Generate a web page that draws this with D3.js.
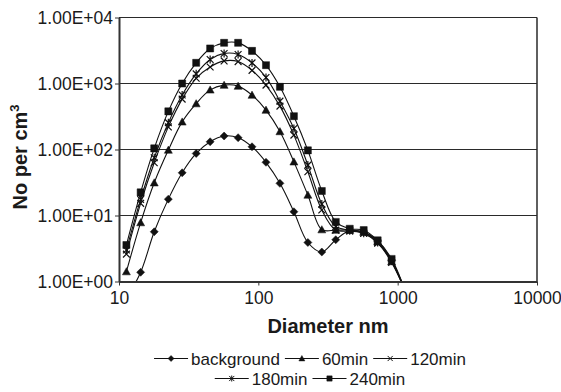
<!DOCTYPE html>
<html>
<head>
<meta charset="utf-8">
<script src="https://cdn.jsdelivr.net/npm/d3@7"></script>
<style>
  body { margin: 0; background: #fff; }
  svg { display: block; font-family: 'Liberation Sans', Arial, sans-serif; }
</style>
</head>
<body>
<div id="chart"></div>
<script>
const WIDTH = 561;
const HEIGHT = 392;
const LEFT = 119;
const RIGHT = 537;
const TOP = 17.5;
const BOTTOM = 281.5;

// diameters (nm), 10 channels per decade
const diameters = [11.3, 14.3, 17.9, 22.6, 28.4, 35.8, 45.1, 56.8, 71.6, 90.1, 113.5,
  142.9, 180.0, 226.7, 285.5, 359.6, 452.9, 570.4, 718.4, 904.8, 1139.5];

const background = [0.55, 1.38, 5.67, 17.7, 44.4, 87, 131, 160, 151, 110, 64,
  30.7, 11.4, 3.9, 2.8, 4.3, 5.9, 5.6, 4.1, 2.1, 0.7];
const min60 = [1.41, 7.8, 31.3, 98, 262, 495, 800, 944, 912, 667, 395,
  187, 65, 20.4, 6.1, 6.0, 6.0, 5.6, 4.0, 2.0, 0.7];
const min120 = [2.6, 15.3, 63, 220, 580, 1200, 1780, 2200, 2150, 1580, 945,
  454, 165, 46, 12.1, 6.0, 5.8, 5.4, 3.8, 1.95, 0.7];
const min180 = [3.0, 17.5, 75, 255, 670, 1400, 2310, 2850, 2750, 2050, 1235,
  540, 208, 58, 14.9, 6.8, 6.0, 5.4, 3.9, 2.05, 0.7];
const min240 = [3.57, 22.4, 104, 378, 1000, 2056, 3400, 4130, 4130, 3120, 1897,
  890, 320, 97, 23.5, 8.0, 6.3, 6.0, 4.2, 2.2, 0.7];

const xTicks = [10, 100, 1000, 10000];
const yTicks = [1, 10, 100, 1000, 10000];

const series = [
  {name: 'background', values: background, marker: 'diamond'},
  {name: '60min', values: min60, marker: 'triangle'},
  {name: '120min', values: min120, marker: 'cross'},
  {name: '180min', values: min180, marker: 'star'},
  {name: '240min', values: min240, marker: 'square'},
];
const legendRows = [['background', '60min', '120min'], ['180min', '240min']];

function markerPath(type, s) {
  switch (type) {
    case 'diamond':
      return `M0,${-s}L${s},0L0,${s}L${-s},0Z`;
    case 'triangle':
      return `M0,${-s}L${s},${s * 0.8}L${-s},${s * 0.8}Z`;
    case 'square':
      return `M${-s * 0.88},${-s * 0.88}H${s * 0.88}V${s * 0.88}H${-s * 0.88}Z`;
    case 'cross':
      return `M${-s * 0.85},${-s * 0.85}L${s * 0.85},${s * 0.85}M${-s * 0.85},${s * 0.85}L${s * 0.85},${-s * 0.85}`;
    case 'star':
      return `M${-s * 0.85},${-s * 0.85}L${s * 0.85},${s * 0.85}M${-s * 0.85},${s * 0.85}L${s * 0.85},${-s * 0.85}M0,${-s}L0,${s}`;
  }
}

function isFilled(type) {
  return type === 'diamond' || type === 'triangle' || type === 'square';
}

function expLabel(d) {
  return d.toExponential(2).toUpperCase().replace(/E([+-])(\d)$/, 'E$10$2');
}

let svg = d3.select('#chart').append('svg')
  .attr('width', WIDTH)
  .attr('height', HEIGHT);

let xScale = d3.scaleLog().domain([10, 10000]).range([LEFT, RIGHT]);
let yScale = d3.scaleLog().domain([1, 10000]).range([BOTTOM, TOP]);

svg.append('defs').append('clipPath')
  .attr('id', 'plotClip')
  .append('rect')
  .attr('x', LEFT)
  .attr('y', TOP)
  .attr('width', RIGHT - LEFT)
  .attr('height', BOTTOM - TOP);

function buildGrid() {
  svg.append('g').attr('class', 'grid')
    .selectAll('line')
    .data(yTicks.slice(1))
    .enter()
    .append('line')
    .attr('x1', LEFT)
    .attr('x2', RIGHT)
    .attr('y1', (d) => yScale(d))
    .attr('y2', (d) => yScale(d))
    .attr('stroke', '#2a2a2a')
    .attr('stroke-width', 1);

  svg.append('line')
    .attr('x1', RIGHT).attr('x2', RIGHT)
    .attr('y1', TOP).attr('y2', BOTTOM)
    .attr('stroke', '#2a2a2a')
    .attr('stroke-width', 1.5);
}

function buildAxis() {
  let xAxis = d3.axisBottom(xScale)
    .tickValues(xTicks)
    .tickFormat(d3.format('d'))
    .tickSizeInner(4)
    .tickSizeOuter(0)
    .tickPadding(6);

  let yAxis = d3.axisLeft(yScale)
    .tickValues(yTicks)
    .tickFormat(expLabel)
    .tickSizeInner(4)
    .tickSizeOuter(0)
    .tickPadding(2);

  let gx = svg.append('g')
    .attr('class', 'xAxis')
    .attr('transform', `translate(0, ${BOTTOM})`)
    .call(xAxis);

  let gy = svg.append('g')
    .attr('class', 'yAxis')
    .attr('transform', `translate(${LEFT}, 0)`)
    .call(yAxis);

  [gx, gy].forEach((g) => {
    g.select('.domain').attr('stroke', '#333').attr('stroke-width', 2);
    g.selectAll('.tick line').attr('stroke', '#333');
    g.selectAll('.tick text')
      .attr('fill', '#1a1a1a')
      .style('font-size', '17.5px')
      .style('font-family', "'Liberation Sans', Arial, sans-serif");
  });
  gx.selectAll('.tick text').attr('dy', '0.72em');

  svg.append('text')
    .attr('x', (LEFT + RIGHT) / 2)
    .attr('y', 333)
    .attr('text-anchor', 'middle')
    .style('font-size', '20px')
    .style('font-weight', 'bold')
    .attr('fill', '#1a1a1a')
    .text('Diameter nm');

  let yTitle = svg.append('text')
    .attr('transform', 'translate(27, 157) rotate(-90)')
    .attr('text-anchor', 'middle')
    .style('font-size', '20px')
    .style('font-weight', 'bold')
    .attr('fill', '#1a1a1a');
  yTitle.append('tspan').text('No per cm');
  yTitle.append('tspan').attr('dy', -8).style('font-size', '13px').text('3');
}

function buildDataLines() {
  let line = d3.line()
    .x((d, i) => xScale(diameters[i]))
    .y((d) => yScale(d))
    .curve(d3.curveCatmullRom.alpha(0.5));

  let plot = svg.append('g')
    .attr('class', 'lineGroup')
    .attr('clip-path', 'url(#plotClip)');

  series.forEach((s) => {
    plot.append('path')
      .datum(s.values)
      .attr('d', line)
      .attr('fill', 'none')
      .attr('stroke', '#111')
      .attr('stroke-width', 1.1);
  });

  series.forEach((s) => {
    plot.append('g')
      .selectAll('path')
      .data(s.values.map((v, i) => ({x: diameters[i], y: v})).filter((d) => d.y >= 1))
      .enter()
      .append('path')
      .attr('transform', (d) => `translate(${xScale(d.x)}, ${yScale(d.y)})`)
      .attr('d', markerPath(s.marker, 4))
      .attr('fill', isFilled(s.marker) ? '#111' : 'none')
      .attr('stroke', '#111')
      .attr('stroke-width', isFilled(s.marker) ? 0.5 : 1.2);
  });
}

function buildLegend() {
  let rowY = [358.5, 378.5];
  legendRows.forEach((names, r) => {
    let row = svg.append('g').attr('class', 'legendRow');
    let x = 0;
    names.forEach((name) => {
      let s = series.find((d) => d.name === name);
      let item = row.append('g').attr('transform', `translate(${x}, 0)`);
      item.append('line')
        .attr('x1', 0).attr('x2', 34)
        .attr('y1', 0).attr('y2', 0)
        .attr('stroke', '#111')
        .attr('stroke-width', 1.1);
      item.append('path')
        .attr('transform', 'translate(17, 0)')
        .attr('d', markerPath(s.marker, 3))
        .attr('fill', isFilled(s.marker) ? '#111' : 'none')
        .attr('stroke', '#111')
        .attr('stroke-width', isFilled(s.marker) ? 0.5 : 1);
      let t = item.append('text')
        .attr('x', 37)
        .attr('y', 6)
        .style('font-size', '17px')
        .attr('fill', '#1a1a1a')
        .text(name);
      x += 37 + t.node().getComputedTextLength() + 5;
    });
    let w = x - 5;
    row.attr('transform', `translate(${310 - w / 2}, ${rowY[r]})`);
  });
}

buildGrid();
buildDataLines();
buildAxis();
buildLegend();
</script>
</body>
</html>
